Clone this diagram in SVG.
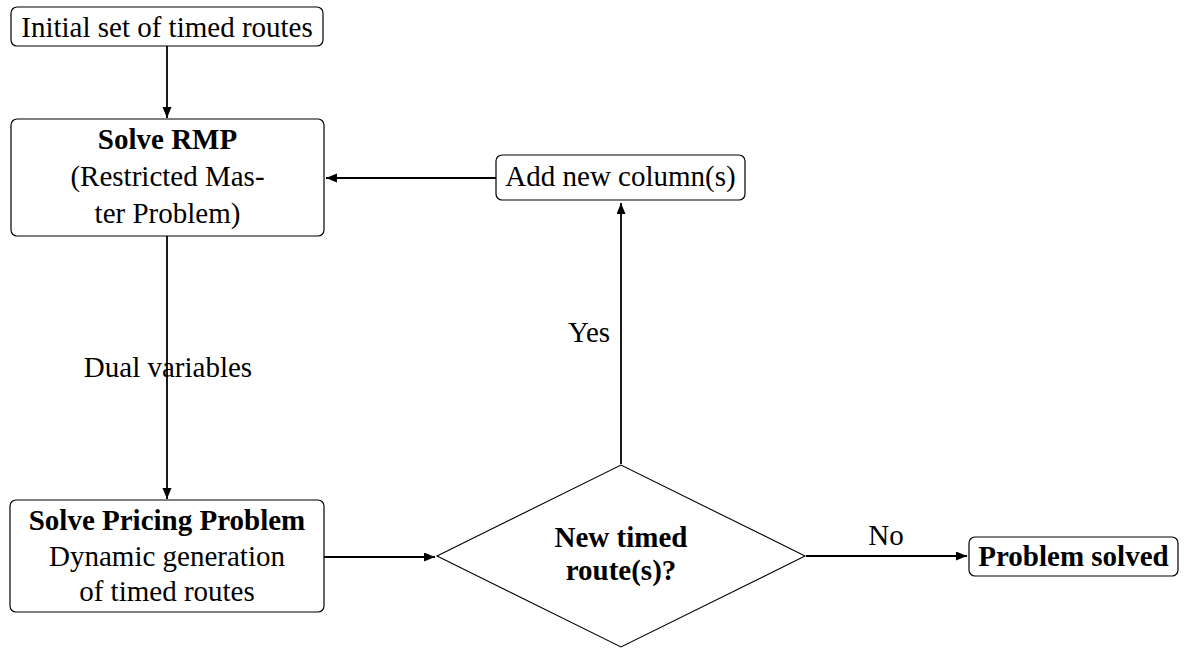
<svg xmlns="http://www.w3.org/2000/svg" width="1184" height="648" viewBox="0 0 1184 648">
  <style>
    .box { fill: #ffffff; stroke: #000000; stroke-width: 1.2; }
    .dec { fill: #ffffff; stroke: #000000; stroke-width: 1.1; }
    .txt { font-family: 'Liberation Serif', 'Times New Roman', serif; font-size: 29px; fill: #000000; text-anchor: middle; }
    .b { font-weight: bold; }
    .edge { fill: none; stroke: #000000; stroke-width: 1.8; }
  </style>
  <defs>
    <marker id="arr" markerUnits="userSpaceOnUse" markerWidth="12" markerHeight="10" refX="11" refY="4.5" orient="auto">
      <path d="M0,0 L11,4.5 L0,9 z" fill="#000000"/>
    </marker>
  </defs>
  <rect width="1184" height="648" fill="#ffffff"/>

  <!-- flow connectors and their labels -->
  <g id="connectors">
    <line class="edge" x1="167" y1="46" x2="167" y2="118" marker-end="url(#arr)"/>
    <line class="edge" x1="496" y1="178" x2="326" y2="178" marker-end="url(#arr)"/>
    <line class="edge" x1="167" y1="236" x2="167" y2="499" marker-end="url(#arr)"/>
    <line class="edge" x1="324" y1="557" x2="435" y2="557" marker-end="url(#arr)"/>
    <line class="edge" x1="621" y1="464" x2="621" y2="203" marker-end="url(#arr)"/>
    <line class="edge" x1="806" y1="556" x2="967" y2="556" marker-end="url(#arr)"/>
    <text class="txt" x="168" y="377">Dual variables</text>
    <text class="txt" x="589" y="342">Yes</text>
    <text class="txt" x="886" y="545">No</text>
  </g>

  <g id="initial">
    <rect class="box" x="11" y="7" width="312" height="39" rx="6"/>
    <text class="txt" x="167" y="37">Initial set of timed routes</text>
  </g>

  <g id="rmp">
    <rect class="box" x="11" y="119" width="313" height="117" rx="6"/>
    <text class="txt b" x="167.5" y="149">Solve RMP</text>
    <text class="txt" x="167.5" y="186">(Restricted Mas-</text>
    <text class="txt" x="167.5" y="223">ter Problem)</text>
  </g>

  <g id="add-column">
    <rect class="box" x="496" y="155" width="249" height="45" rx="6"/>
    <text class="txt" x="620.5" y="186">Add new column(s)</text>
  </g>

  <g id="pricing">
    <rect class="box" x="10" y="500" width="314" height="112" rx="6"/>
    <text class="txt b" x="167" y="530">Solve Pricing Problem</text>
    <text class="txt" x="167" y="566">Dynamic generation</text>
    <text class="txt" x="167" y="601">of timed routes</text>
  </g>

  <g id="decision">
    <polygon class="dec" points="437,556 621,465 805,556 621,647"/>
    <text class="txt b" x="621" y="547">New timed</text>
    <text class="txt b" x="621" y="580">route(s)?</text>
  </g>

  <g id="solved">
    <rect class="box" x="969" y="537" width="209" height="39" rx="6"/>
    <text class="txt b" x="1073.5" y="566">Problem solved</text>
  </g>
</svg>
